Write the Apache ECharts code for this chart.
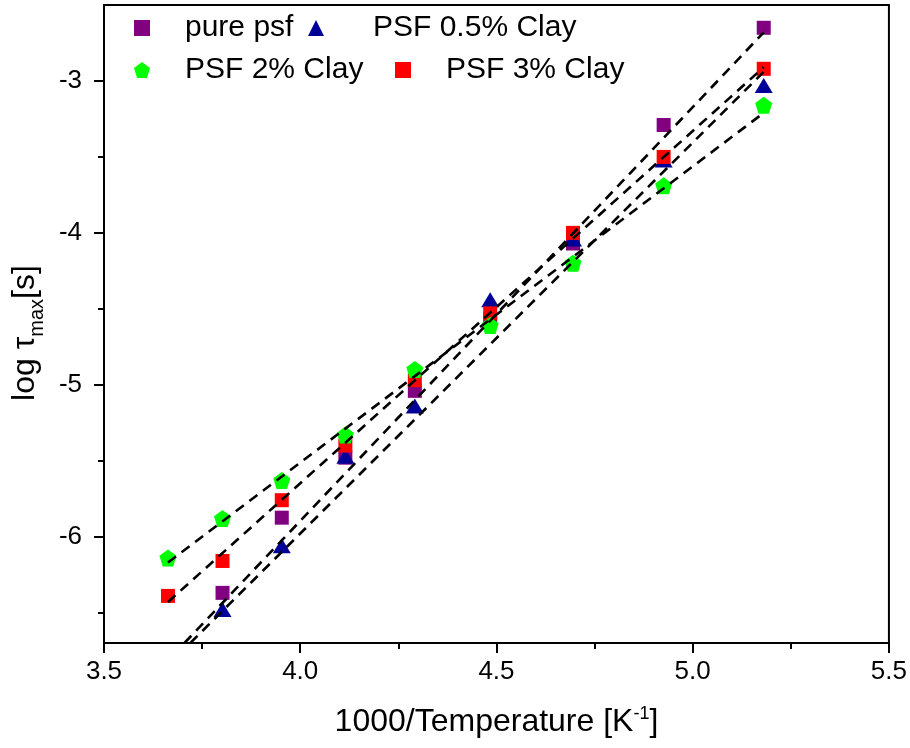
<!DOCTYPE html>
<html>
<head>
<meta charset="utf-8">
<script src="https://cdn.jsdelivr.net/npm/echarts@6/dist/echarts.min.js"></script>
<style>html,body{margin:0;padding:0;background:#fff}#c{width:910px;height:748px}</style>
</head>
<body>
<div id="c"></div>
<script>
// x values: 1000/T
const xPure = [3.802, 3.953, 4.115, 4.292, 4.484, 4.695, 4.926, 5.181];
const yPure = [-6.37, -5.875, -5.48, -5.04, -4.57, -4.07, -3.29, -2.65];
const xClay05 = [3.802, 3.953, 4.115, 4.292, 4.484, 4.695, 4.926, 5.181];
const yClay05 = [-6.48, -6.06, -5.47, -5.14, -4.44, -4.04, -3.52, -3.03];
const xClay2 = [3.663, 3.802, 3.953, 4.115, 4.292, 4.484, 4.695, 4.926, 5.181];
const yClay2 = [-6.14, -5.88, -5.63, -5.33, -4.90, -4.61, -4.20, -3.69, -3.16];
const xClay3 = [3.663, 3.802, 3.953, 4.115, 4.292, 4.484, 4.695, 4.926, 5.181];
const yClay3 = [-6.39, -6.16, -5.76, -5.40, -4.97, -4.53, -4.00, -3.50, -2.92];
// fitted dashed lines, endpoints
const fitPureX = [3.705, 5.181], fitPureY = [-6.70, -2.68];
const fitClay05X = [3.720, 5.181], fitClay05Y = [-6.70, -2.94];
const fitClay2X = [3.663, 5.181], fitClay2Y = [-6.17, -3.21];
const fitClay3X = [3.663, 5.181], fitClay3Y = [-6.43, -2.91];
// axis ticks
const xTicks = [3.5, 4.0, 4.5, 5.0, 5.5];
const yTicks = [-6, -5, -4, -3];
const yMinorTicks = [-6.5, -5.5, -4.5, -3.5];
const names = ['pure psf', 'PSF 0.5% Clay', 'PSF 2% Clay', 'PSF 3% Clay'];

const zip = (xs, ys) => xs.map((x, i) => [x, ys[i]]);
const pentagon = 'path://M50,0 L100,37 L81,100 L19,100 L0,37 Z';
const FONT = 'Liberation Sans, Arial, sans-serif';

function fit(xs, ys) {
  return {
    type: 'line', data: zip(xs, ys), symbol: 'none', silent: true, z: 5,
    lineStyle: { color: '#000', width: 2.6, type: [10, 7] }, clip: true
  };
}
function legend(name, left, top, pad) {
  return {
    data: [name], left: left, top: top, itemWidth: 16, itemHeight: 16,
    selectedMode: false,
    textStyle: { fontFamily: FONT, fontSize: 30, color: '#000', padding: [0, 0, 0, pad] }
  };
}

const chart = echarts.init(document.getElementById('c'), null, { renderer: 'canvas' });
chart.setOption({
  animation: false,
  backgroundColor: '#fff',
  grid: { left: 104, right: 20, top: 5, bottom: 105, show: true, borderColor: '#000', borderWidth: 2 },
  legend: [
    legend(names[0], 129, 8, 30),
    legend(names[1], 303, 8, 44),
    legend(names[2], 129, 50, 30),
    legend(names[3], 390, 50, 30)
  ],
  xAxis: {
    type: 'value', min: 3.5, max: 5.5, interval: 0.5,
    name: '1000/Temperature [K{sup|-1}]', nameLocation: 'middle', nameGap: 62,
    nameTextStyle: { fontFamily: FONT, fontSize: 32, color: '#000',
      rich: { sup: { fontFamily: FONT, fontSize: 18, color: '#000', verticalAlign: 'top', padding: [0, 0, 16, 0] } } },
    axisLine: { lineStyle: { color: '#000', width: 2 } },
    axisTick: { show: true, inside: false, length: 10, lineStyle: { color: '#000', width: 2 }, customValues: xTicks },
    minorTick: { show: true, splitNumber: 2, length: 6, lineStyle: { color: '#000', width: 2 } },
    axisLabel: { fontFamily: FONT, fontSize: 26, color: '#000', margin: 16, customValues: xTicks,
      formatter: v => v.toFixed(1) },
    splitLine: { show: false }
  },
  yAxis: [{
    type: 'value', min: -6.7, max: -2.5,
    name: '{a|log τ}{sub|max}{a|[s]}', nameLocation: 'middle', nameGap: 62, nameRotate: 90,
    nameTextStyle: { fontFamily: FONT, fontSize: 32, color: '#000', padding: [0, 18, 0, 0],
      rich: {
        a: { fontFamily: FONT, fontSize: 32, color: '#000', lineHeight: 38, verticalAlign: 'bottom' },
        sub: { fontFamily: FONT, fontSize: 20, color: '#000', lineHeight: 38, verticalAlign: 'bottom', padding: [0, 0, -7, 0] }
      } },
    axisLine: { show: true, lineStyle: { color: '#000', width: 2 } },
    axisTick: { show: true, inside: false, length: 10, lineStyle: { color: '#000', width: 2 }, customValues: yTicks },
    axisLabel: { fontFamily: FONT, fontSize: 26, color: '#000', margin: 22, customValues: yTicks,
      formatter: v => String(v) },
    splitLine: { show: false }
  }, {
    type: 'value', min: -6.7, max: -2.5, position: 'left',
    axisLine: { show: false },
    axisTick: { show: true, inside: false, length: 6, lineStyle: { color: '#000', width: 2 }, customValues: yMinorTicks },
    axisLabel: { show: false },
    splitLine: { show: false }
  }],
  series: [
    { name: names[0], type: 'scatter', data: zip(xPure, yPure), symbol: 'rect', symbolSize: 14, z: 2,
      itemStyle: { color: '#800080', opacity: 1 } },
    { name: names[1], type: 'scatter', data: zip(xClay05, yClay05), symbol: 'triangle', symbolSize: [18, 15], z: 2,
      itemStyle: { color: '#000099', opacity: 1 } },
    { name: names[3], type: 'scatter', data: zip(xClay3, yClay3), symbol: 'rect', symbolSize: 14, z: 3,
      itemStyle: { color: '#ff0000', opacity: 1 } },
    { name: names[2], type: 'scatter', data: zip(xClay2, yClay2), symbol: pentagon, symbolSize: 17, z: 3,
      itemStyle: { color: '#00ff00', opacity: 1 } },
    fit(fitPureX, fitPureY),
    fit(fitClay05X, fitClay05Y),
    fit(fitClay2X, fitClay2Y),
    fit(fitClay3X, fitClay3Y)
  ]
});
</script>
</body>
</html>
